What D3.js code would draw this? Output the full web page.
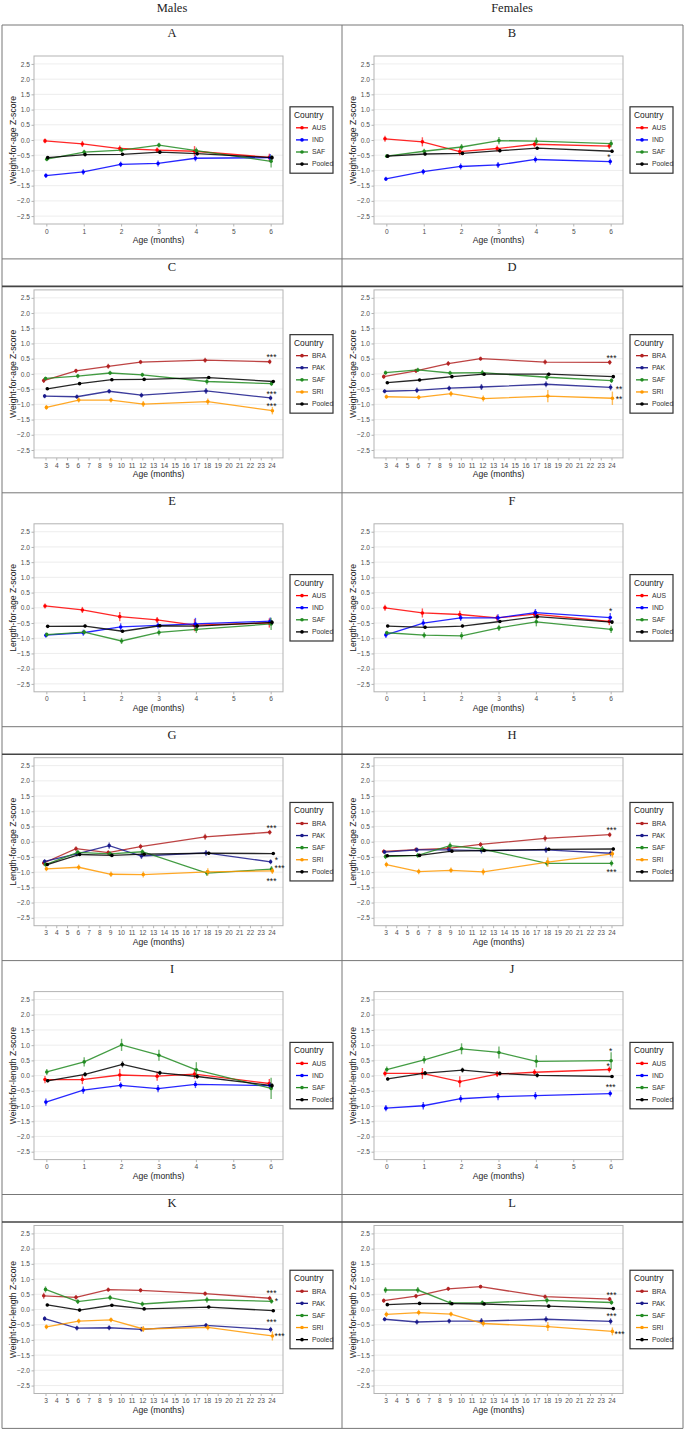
<!DOCTYPE html>
<html>
<head>
<meta charset="utf-8">
<script src="https://cdn.jsdelivr.net/npm/d3@7"></script>
<style>
  body { margin: 0; background: #fff; }
  svg { display: block; }
</style>
</head>
<body>
<div id="chart"></div>
<script>
// Ages and ticks
const infantAges = [0, 1, 2, 3, 4, 6];
const childAges = [3, 6, 9, 12, 18, 24];
const infantTicks = [0, 1, 2, 3, 4, 5, 6];
const childTicks = [3, 4, 5, 6, 7, 8, 9, 10, 11, 12, 13, 14, 15, 16, 17, 18, 19, 20, 21, 22, 23, 24];
const yTicks = [-2.5, -2.0, -1.5, -1.0, -0.5, 0.0, 0.5, 1.0, 1.5, 2.0, 2.5];

const infantCountries = ['AUS', 'IND', 'SAF', 'Pooled'];
const childCountries = ['BRA', 'PAK', 'SAF', 'SRI', 'Pooled'];

const columnTitles = ['Males', 'Females'];
const panelLetters = ['A', 'B', 'C', 'D', 'E', 'F', 'G', 'H', 'I', 'J', 'K', 'L'];
const yTitles = ['Weight-for-age Z-score', 'Length-for-age Z-score', 'Weight-for-length Z-score'];

// Means (rows follow the panel's country list) and error bar half-widths
const A_mean = [[-0.03, -0.13, -0.28, -0.33, -0.37, -0.57],
                [-1.17, -1.05, -0.80, -0.77, -0.60, -0.58],
                [-0.63, -0.40, -0.33, -0.17, -0.35, -0.70],
                [-0.58, -0.48, -0.47, -0.40, -0.45, -0.58]];
const A_err = [[0.08, 0.10, 0.10, 0.08, 0.17, 0.12], [0.08, 0.09, 0.09, 0.10, 0.10, 0.12],
               [0.07, 0.08, 0.08, 0.08, 0.10, 0.20], [0.04, 0.05, 0.04, 0.05, 0.05, 0.07]];

const B_mean = [[0.04, -0.06, -0.38, -0.28, -0.14, -0.20],
                [-1.28, -1.04, -0.87, -0.82, -0.64, -0.71],
                [-0.53, -0.37, -0.23, -0.02, -0.04, -0.12],
                [-0.53, -0.46, -0.44, -0.35, -0.27, -0.37]];
const B_err = [[0.10, 0.15, 0.12, 0.10, 0.10, 0.10], [0.07, 0.09, 0.10, 0.10, 0.10, 0.10],
               [0.05, 0.08, 0.10, 0.12, 0.12, 0.12], [0.04, 0.05, 0.05, 0.05, 0.05, 0.06]];

const C_mean = [[-0.22, 0.10, 0.25, 0.39, 0.45, 0.40],
                [-0.73, -0.75, -0.57, -0.70, -0.56, -0.79],
                [-0.15, -0.07, 0.03, -0.03, -0.25, -0.32],
                [-1.10, -0.86, -0.86, -0.99, -0.91, -1.21],
                [-0.49, -0.32, -0.19, -0.18, -0.12, -0.25]];
const C_err = [[0.08, 0.07, 0.08, 0.07, 0.08, 0.08], [0.07, 0.07, 0.07, 0.08, 0.10, 0.08],
               [0.06, 0.07, 0.07, 0.07, 0.10, 0.08], [0.08, 0.08, 0.08, 0.10, 0.10, 0.12],
               [0.04, 0.04, 0.04, 0.04, 0.05, 0.05]];

const D_mean = [[-0.09, 0.10, 0.34, 0.50, 0.39, 0.38],
                [-0.57, -0.54, -0.47, -0.43, -0.34, -0.44],
                [0.04, 0.13, 0.03, 0.04, -0.11, -0.22],
                [-0.75, -0.77, -0.65, -0.81, -0.73, -0.80],
                [-0.29, -0.20, -0.09, -0.01, -0.01, -0.09]];
const D_err = [[0.07, 0.07, 0.08, 0.07, 0.08, 0.08], [0.07, 0.09, 0.08, 0.10, 0.10, 0.10],
               [0.07, 0.07, 0.07, 0.09, 0.08, 0.08], [0.07, 0.07, 0.09, 0.10, 0.20, 0.22],
               [0.04, 0.04, 0.04, 0.04, 0.05, 0.05]];

const E_mean = [[0.06, -0.07, -0.29, -0.40, -0.57, -0.50],
                [-0.90, -0.82, -0.63, -0.58, -0.53, -0.44],
                [-0.88, -0.80, -1.09, -0.81, -0.71, -0.53],
                [-0.61, -0.60, -0.77, -0.59, -0.60, -0.48]];
const E_err = [[0.08, 0.10, 0.15, 0.10, 0.20, 0.15], [0.08, 0.10, 0.12, 0.10, 0.20, 0.12],
               [0.07, 0.08, 0.10, 0.10, 0.12, 0.20], [0.04, 0.05, 0.05, 0.05, 0.06, 0.07]];

const F_mean = [[0.00, -0.17, -0.22, -0.33, -0.21, -0.45],
                [-0.89, -0.50, -0.33, -0.33, -0.16, -0.32],
                [-0.82, -0.90, -0.92, -0.66, -0.46, -0.71],
                [-0.60, -0.64, -0.60, -0.45, -0.29, -0.47]];
const F_err = [[0.10, 0.15, 0.12, 0.10, 0.12, 0.12], [0.10, 0.12, 0.10, 0.12, 0.12, 0.15],
               [0.07, 0.10, 0.12, 0.10, 0.15, 0.12], [0.04, 0.05, 0.05, 0.05, 0.05, 0.06]];

const G_mean = [[-0.70, -0.23, -0.36, -0.16, 0.16, 0.31],
                [-0.65, -0.40, -0.13, -0.47, -0.37, -0.66],
                [-0.75, -0.35, -0.40, -0.33, -1.03, -0.90],
                [-0.89, -0.84, -1.07, -1.08, -0.99, -0.96],
                [-0.75, -0.42, -0.45, -0.41, -0.38, -0.39]];
const G_err = [[0.08, 0.08, 0.08, 0.09, 0.10, 0.08], [0.08, 0.09, 0.10, 0.10, 0.10, 0.08],
               [0.08, 0.08, 0.08, 0.08, 0.10, 0.10], [0.08, 0.09, 0.09, 0.10, 0.12, 0.10],
               [0.04, 0.04, 0.04, 0.04, 0.05, 0.04]];

const H_mean = [[-0.32, -0.26, -0.22, -0.09, 0.11, 0.23],
                [-0.34, -0.27, -0.27, -0.29, -0.27, -0.38],
                [-0.49, -0.45, -0.13, -0.24, -0.71, -0.71],
                [-0.75, -0.98, -0.94, -0.99, -0.67, -0.40],
                [-0.46, -0.45, -0.31, -0.29, -0.25, -0.24]];
const H_err = [[0.07, 0.07, 0.08, 0.08, 0.10, 0.08], [0.07, 0.08, 0.08, 0.10, 0.10, 0.10],
               [0.08, 0.08, 0.10, 0.10, 0.10, 0.10], [0.09, 0.09, 0.09, 0.11, 0.15, 0.12],
               [0.04, 0.04, 0.04, 0.04, 0.05, 0.05]];

const I_mean = [[-0.13, -0.13, 0.02, -0.02, 0.05, -0.26],
                [-0.87, -0.48, -0.32, -0.43, -0.29, -0.33],
                [0.12, 0.45, 1.01, 0.67, 0.19, -0.42],
                [-0.17, 0.04, 0.37, 0.09, -0.03, -0.33]];
const I_err = [[0.12, 0.15, 0.20, 0.15, 0.15, 0.15], [0.12, 0.12, 0.10, 0.12, 0.12, 0.10],
               [0.10, 0.15, 0.20, 0.18, 0.25, 0.35], [0.05, 0.07, 0.10, 0.07, 0.07, 0.08]];

const J_mean = [[0.07, 0.07, -0.20, 0.05, 0.11, 0.20],
                [-1.07, -0.99, -0.76, -0.69, -0.66, -0.59],
                [0.20, 0.52, 0.88, 0.76, 0.47, 0.49],
                [-0.11, 0.08, 0.18, 0.07, 0.01, -0.03]];
const J_err = [[0.10, 0.18, 0.18, 0.10, 0.10, 0.10], [0.10, 0.12, 0.12, 0.12, 0.12, 0.10],
               [0.10, 0.12, 0.18, 0.20, 0.20, 0.28], [0.05, 0.07, 0.08, 0.07, 0.07, 0.05]];

const K_mean = [[0.45, 0.40, 0.65, 0.63, 0.52, 0.37],
                [-0.30, -0.61, -0.60, -0.65, -0.52, -0.66],
                [0.66, 0.26, 0.39, 0.18, 0.32, 0.27],
                [-0.57, -0.38, -0.34, -0.64, -0.59, -0.87],
                [0.15, -0.02, 0.14, 0.02, 0.08, -0.04]];
const K_err = [[0.10, 0.08, 0.07, 0.07, 0.07, 0.08], [0.08, 0.08, 0.08, 0.08, 0.08, 0.09],
               [0.10, 0.08, 0.09, 0.08, 0.10, 0.08], [0.08, 0.08, 0.08, 0.10, 0.09, 0.15],
               [0.04, 0.04, 0.04, 0.04, 0.04, 0.04]];

const L_mean = [[0.29, 0.44, 0.68, 0.75, 0.42, 0.34],
                [-0.32, -0.41, -0.38, -0.38, -0.32, -0.39],
                [0.64, 0.64, 0.22, 0.22, 0.30, 0.23],
                [-0.16, -0.10, -0.15, -0.46, -0.56, -0.72],
                [0.16, 0.20, 0.19, 0.18, 0.11, 0.03]];
const L_err = [[0.07, 0.07, 0.07, 0.06, 0.07, 0.07], [0.07, 0.08, 0.08, 0.10, 0.10, 0.10],
               [0.10, 0.10, 0.08, 0.08, 0.10, 0.08], [0.09, 0.09, 0.08, 0.10, 0.15, 0.13],
               [0.04, 0.04, 0.04, 0.04, 0.04, 0.04]];

// Significance marks: [label, age, z]
const A_stars = [];
const B_stars = [['*', 5.95, -0.5]];
const C_stars = [['***', 24, 0.6], ['***', 24, -0.59], ['***', 24, -0.99]];
const D_stars = [['***', 24, 0.59], ['**', 24.7, -0.42], ['**', 24.7, -0.78]];
const E_stars = [];
const F_stars = [['*', 6, -0.04]];
const G_stars = [['***', 24, 0.51], ['*', 24.45, -0.55], ['***', 24.75, -0.81], ['***', 24, -1.22]];
const H_stars = [['***', 24, 0.46], ['***', 24, -0.93]];
const I_stars = [];
const J_stars = [['*', 6, 0.87], ['*', 5.93, 0.38], ['***', 6, -0.32]];
const K_stars = [['***', 24, 0.59], ['*', 24.45, 0.34], ['***', 24, -0.36], ['***', 24.75, -0.8]];
const L_stars = [['***', 24, 0.55], ['***', 24, -0.15], ['***', 24.75, -0.74]];

const panelMeans = [A_mean, B_mean, C_mean, D_mean, E_mean, F_mean, G_mean, H_mean, I_mean, J_mean, K_mean, L_mean];
const panelErrs = [A_err, B_err, C_err, D_err, E_err, F_err, G_err, H_err, I_err, J_err, K_err, L_err];
const panelStars = [A_stars, B_stars, C_stars, D_stars, E_stars, F_stars, G_stars, H_stars, I_stars, J_stars, K_stars, L_stars];

const color = d3.scaleOrdinal()
  .domain(['AUS', 'IND', 'SAF', 'Pooled', 'BRA', 'PAK', 'SRI'])
  .range(['#ff0000', '#0000ff', '#228b22', '#000000', '#b22222', '#1a1a8b', '#ff9900']);

const W = 685, H = 1432;
const colX = [2, 342];
const rowTop0 = 25, rowH = 233.9;
const sans = 'Liberation Sans, Arial, sans-serif';
const serif = 'Liberation Serif, Times New Roman, serif';

const svg = d3.select('#chart')
  .append('svg')
  .attr('width', W)
  .attr('height', H);

// Column headers
columnTitles.forEach((t, i) => {
  svg.append('text')
     .attr('x', colX[i] + 170)
     .attr('y', 12)
     .attr('text-anchor', 'middle')
     .style('font-family', serif)
     .style('font-size', '12.5px')
     .attr('fill', '#222')
     .text(t);
});

// Table grid
const grid = svg.append('g');
for (let r = 0; r <= 6; r++) {
  grid.append('line')
      .attr('x1', 2).attr('x2', 683)
      .attr('y1', rowTop0 + r * rowH).attr('y2', rowTop0 + r * rowH)
      .attr('stroke', '#777').attr('stroke-width', 1);
}
[2, 342, 683].forEach(x => {
  grid.append('line')
      .attr('x1', x).attr('x2', x)
      .attr('y1', rowTop0).attr('y2', rowTop0 + 6 * rowH)
      .attr('stroke', '#777').attr('stroke-width', 1);
});
[1, 3, 5].forEach(r => {
  grid.append('line')
      .attr('x1', 2).attr('x2', 683)
      .attr('y1', rowTop0 + r * rowH + 27.5).attr('y2', rowTop0 + r * rowH + 27.5)
      .attr('stroke', '#444').attr('stroke-width', 1.6);
});

function drawPanel(p) {
  const row = Math.floor(p / 2);
  const col = p % 2;
  const top = rowTop0 + row * rowH;
  const left = colX[col];
  const infant = row % 2 === 0;
  const ages = infant ? infantAges : childAges;
  const countries = infant ? infantCountries : childCountries;
  const ticks = infant ? infantTicks : childTicks;
  const means = panelMeans[p];
  const errs = panelErrs[p];

  const x0 = left + 32, x1 = left + 281;
  const y0 = top + 31, y1 = top + 199;

  const x = d3.scaleLinear()
              .domain(infant ? [-0.33, 6.33] : [1.93, 25.07])
              .range([x0, x1]);
  const y = d3.scaleLinear()
              .domain([-2.76, 2.76])
              .range([y1, y0]);

  const g = svg.append('g');

  // Panel letter
  g.append('text')
   .attr('x', left + 170)
   .attr('y', top + 12)
   .attr('text-anchor', 'middle')
   .style('font-family', serif)
   .style('font-size', '12.5px')
   .attr('fill', '#222')
   .text(panelLetters[p]);

  // Grid lines
  g.selectAll('.grid')
   .data(yTicks)
   .enter()
   .append('line')
   .attr('x1', x0).attr('x2', x1)
   .attr('y1', d => y(d)).attr('y2', d => y(d))
   .attr('stroke', '#ebebeb')
   .attr('stroke-width', 0.9);

  // Axes
  const yAxis = g.append('g')
    .attr('transform', `translate(${x0},0)`)
    .call(d3.axisLeft(y).tickValues(yTicks).tickSize(2.5).tickPadding(1.5).tickFormat(d3.format('.1f')));
  const xAxis = g.append('g')
    .attr('transform', `translate(0,${y1})`)
    .call(d3.axisBottom(x).tickValues(ticks).tickSize(2.5).tickPadding(2.5).tickFormat(d3.format('d')));
  [yAxis, xAxis].forEach(a => {
    a.select('.domain').remove();
    a.selectAll('line').attr('stroke', '#b3b3b3');
    a.selectAll('text')
     .attr('fill', '#4d4d4d')
     .style('font-family', sans)
     .style('font-size', '6.6px');
  });

  // Panel border
  g.append('rect')
   .attr('x', x0).attr('y', y0)
   .attr('width', x1 - x0).attr('height', y1 - y0)
   .attr('fill', 'none')
   .attr('stroke', '#b3b3b3')
   .attr('stroke-width', 1);

  // Axis titles
  g.append('text')
   .attr('transform', `translate(${left + 14},${(y0 + y1) / 2}) rotate(-90)`)
   .attr('text-anchor', 'middle')
   .style('font-family', sans)
   .style('font-size', '8.6px')
   .attr('fill', '#222')
   .text(yTitles[Math.floor(row / 2)]);
  g.append('text')
   .attr('x', (x0 + x1) / 2)
   .attr('y', top + 218)
   .attr('text-anchor', 'middle')
   .style('font-family', sans)
   .style('font-size', '8.6px')
   .attr('fill', '#222')
   .text('Age (months)');

  // Series
  const n = countries.length;
  countries.forEach((c, i) => {
    const dodge = (i - (n - 1) / 2) * 0.9;
    const pts = ages.map((a, k) => ({ a: a, m: means[i][k], e: errs[i][k] }));
    const sg = g.append('g').attr('transform', `translate(${dodge},0)`);

    sg.selectAll('.eb')
      .data(pts)
      .enter()
      .append('line')
      .attr('x1', d => x(d.a)).attr('x2', d => x(d.a))
      .attr('y1', d => y(d.m - d.e)).attr('y2', d => y(d.m + d.e))
      .attr('stroke', color(c))
      .attr('stroke-opacity', 0.65)
      .attr('stroke-width', 1.4);

    sg.append('path')
      .datum(pts)
      .attr('d', d3.line().x(d => x(d.a)).y(d => y(d.m)))
      .attr('fill', 'none')
      .attr('stroke', color(c))
      .attr('stroke-opacity', 0.85)
      .attr('stroke-width', 1.3);

    sg.selectAll('.pt')
      .data(pts)
      .enter()
      .append('circle')
      .attr('cx', d => x(d.a))
      .attr('cy', d => y(d.m))
      .attr('r', 1.8)
      .attr('fill', color(c));
  });

  // Significance marks
  g.selectAll('.star')
   .data(panelStars[p])
   .enter()
   .append('text')
   .attr('x', d => x(d[1]))
   .attr('y', d => y(d[2]))
   .attr('dy', '0.57em')
   .attr('text-anchor', 'middle')
   .style('font-family', sans)
   .style('font-size', '8.5px')
   .attr('fill', '#111')
   .text(d => d[0]);

  // Legend
  const lh = 18 + 12.1 * n;
  const ly = (y0 + y1) / 2 - lh / 2;
  const lg = g.append('g');
  lg.append('rect')
    .attr('x', left + 288).attr('y', ly)
    .attr('width', 43).attr('height', lh)
    .attr('fill', '#fff')
    .attr('stroke', '#333')
    .attr('stroke-width', 1.2);
  lg.append('text')
    .attr('x', left + 292)
    .attr('y', ly + 11)
    .style('font-family', sans)
    .style('font-size', '8.4px')
    .attr('fill', '#222')
    .text('Country');
  countries.forEach((c, i) => {
    const cy = ly + 21 + i * 12.1;
    lg.append('line')
      .attr('x1', left + 294).attr('x2', left + 306)
      .attr('y1', cy).attr('y2', cy)
      .attr('stroke', color(c))
      .attr('stroke-width', 1.3);
    lg.append('circle')
      .attr('cx', left + 300).attr('cy', cy)
      .attr('r', 1.8)
      .attr('fill', color(c));
    lg.append('text')
      .attr('x', left + 310)
      .attr('y', cy)
      .attr('dy', '0.35em')
      .style('font-family', sans)
      .style('font-size', '6.8px')
      .attr('fill', '#333')
      .text(c);
  });
}

for (let p = 0; p < 12; p++) drawPanel(p);
</script>
</body>
</html>
